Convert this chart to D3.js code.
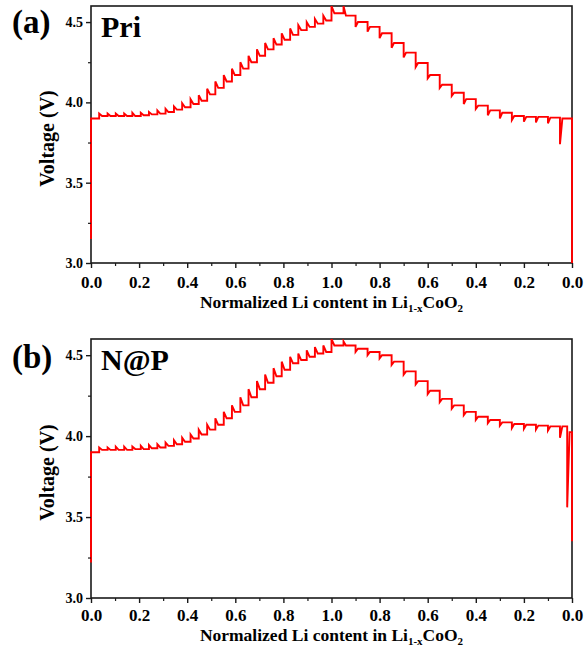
<!DOCTYPE html>
<html>
<head>
<meta charset="utf-8">
<script src="https://cdn.jsdelivr.net/npm/d3@7"></script>
<style>
  html, body { margin: 0; padding: 0; background: #fff; }
  svg { display: block; }
  text { font-family: "Liberation Serif", "Times New Roman", serif; font-weight: bold; fill: #000; }
</style>
</head>
<body>
<svg id="chart" width="586" height="652"></svg>
<script>
// ---------------- DATA ----------------
const xTickValues = [0, 0.2, 0.4, 0.6, 0.8, 1.0, 1.2, 1.4, 1.6, 1.8, 2.0];
const xTickLabels = ["0.0", "0.2", "0.4", "0.6", "0.8", "1.0", "0.8", "0.6", "0.4", "0.2", "0.0"];
const yTickValues = [3.0, 3.5, 4.0, 4.5];
const yTickLabels = ["3.0", "3.5", "4.0", "4.5"];
const panelLetters = ["(a)", "(b)"];
const sampleNames = ["Pri", "N@P"];

// charge (delithiation) pulse positions, x in Li1-xCoO2
const chargeX = [0.034, 0.069, 0.103, 0.138, 0.172, 0.207, 0.241, 0.276, 0.310, 0.345,
                 0.379, 0.414, 0.448, 0.483, 0.517, 0.552, 0.586, 0.621, 0.655, 0.690,
                 0.724, 0.759, 0.793, 0.828, 0.862, 0.897, 0.931, 0.966, 1.000];
// discharge pulse positions, amount of Li re-inserted (axis reads 1.0 -> 0.0)
const dischargeD_a = [0.05, 0.10, 0.15, 0.20, 0.25, 0.30, 0.35, 0.40, 0.45, 0.50,
                      0.55, 0.60, 0.65, 0.70, 0.75, 0.80, 0.85, 0.90, 0.95];
const dischargeD_b = [0.05, 0.10, 0.15, 0.20, 0.25, 0.30, 0.35, 0.40, 0.45, 0.50,
                      0.55, 0.60, 0.65, 0.70, 0.75, 0.80, 0.85, 0.90, 0.95, 0.98];

// Pri (a)
const priStart = [3.15, 3.90];          // initial OCV drop-in, first relaxed level
const priChargeSpike = [3.93, 3.93, 3.93, 3.93, 3.935, 3.935, 3.94, 3.95, 3.96, 3.975,
                        3.995, 4.02, 4.045, 4.085, 4.13, 4.17, 4.21, 4.25, 4.29, 4.33,
                        4.37, 4.40, 4.43, 4.46, 4.48, 4.50, 4.52, 4.54, 4.60];
const priChargeLevel = [3.915, 3.915, 3.915, 3.915, 3.915, 3.92, 3.925, 3.93, 3.94, 3.955,
                        3.97, 3.99, 4.01, 4.05, 4.09, 4.13, 4.17, 4.21, 4.25, 4.29,
                        4.33, 4.36, 4.39, 4.42, 4.45, 4.47, 4.49, 4.51, 4.555];
const priDischargeSpike = [4.60, 4.47, 4.44, 4.40, 4.34, 4.28, 4.22, 4.15, 4.09, 4.04,
                           3.99, 3.96, 3.92, 3.90, 3.89, 3.88, 3.875, 3.87, 3.74];
const priDischargeLevel = [4.54, 4.50, 4.47, 4.43, 4.37, 4.31, 4.245, 4.17, 4.11, 4.06,
                           4.02, 3.98, 3.95, 3.935, 3.915, 3.91, 3.91, 3.905, 3.90];
const priEnd = 3.0;

// N@P (b)
const napStart = [3.22, 3.90];
const napChargeSpike = [3.93, 3.93, 3.935, 3.935, 3.935, 3.94, 3.945, 3.95, 3.96, 3.975,
                        3.99, 4.01, 4.04, 4.07, 4.11, 4.15, 4.19, 4.24, 4.29, 4.34,
                        4.38, 4.42, 4.46, 4.49, 4.51, 4.53, 4.55, 4.56, 4.60];
const napChargeLevel = [3.915, 3.915, 3.915, 3.915, 3.92, 3.92, 3.925, 3.93, 3.94, 3.95,
                        3.965, 3.985, 4.01, 4.04, 4.07, 4.11, 4.15, 4.19, 4.24, 4.29,
                        4.33, 4.37, 4.41, 4.45, 4.47, 4.49, 4.51, 4.52, 4.56];
const napDischargeSpike = [4.585, 4.52, 4.50, 4.48, 4.44, 4.38, 4.32, 4.26, 4.21, 4.17,
                           4.13, 4.10, 4.08, 4.065, 4.05, 4.045, 4.04, 4.035, 3.99, 3.56];
const napDischargeLevel = [4.56, 4.54, 4.52, 4.50, 4.46, 4.40, 4.34, 4.28, 4.23, 4.19,
                           4.15, 4.12, 4.10, 4.085, 4.075, 4.07, 4.065, 4.06, 4.06, 4.025];
const napEnd = 3.35;

// ---------------- DRAW ----------------
const svg = d3.select("#chart");
const panels = [
  { top: 6, bottom: 263, letter: panelLetters[0], name: sampleNames[0],
    start: priStart, cs: priChargeSpike, cl: priChargeLevel,
    dd: dischargeD_a, ds: priDischargeSpike, dl: priDischargeLevel, end: priEnd,
    letterY: 33, nameY: 37, tickY: 288, titleY: 308 },
  { top: 339, bottom: 598, letter: panelLetters[1], name: sampleNames[1],
    start: napStart, cs: napChargeSpike, cl: napChargeLevel,
    dd: dischargeD_b, ds: napDischargeSpike, dl: napDischargeLevel, end: napEnd,
    letterY: 368, nameY: 370, tickY: 621, titleY: 641 }
];
const left = 91, right = 572;

panels.forEach((p, i) => {
  const x = d3.scaleLinear().domain([0, 2]).range([left, right]);
  const y = d3.scaleLinear().domain([3.0, 4.6]).range([p.bottom, p.top]);
  const g = svg.append("g");

  // frame
  g.append("rect")
    .attr("x", left).attr("y", p.top)
    .attr("width", right - left).attr("height", p.bottom - p.top)
    .attr("fill", "none").attr("stroke", "#1a1a1a").attr("stroke-width", 1.6);

  // build GITT trace
  const pts = [];
  pts.push([0, p.start[0]]);
  pts.push([0, p.start[1]]);
  let prev = p.start[1];
  chargeX.forEach((cx, k) => {
    pts.push([cx, prev]);
    pts.push([cx, p.cs[k]]);
    pts.push([Math.min(cx + 0.012, 2), p.cl[k]]);
    prev = p.cl[k];
  });
  p.dd.forEach((d, k) => {
    const u = 1 + d;
    pts.push([u, prev]);
    pts.push([u, p.ds[k]]);
    pts.push([u + 0.01, p.dl[k]]);
    prev = p.dl[k];
  });
  pts.push([2, prev]);
  pts.push([2, p.end]);

  const clipId = "clip" + i;
  svg.append("clipPath").attr("id", clipId)
    .append("rect").attr("x", left - 2).attr("y", p.top)
    .attr("width", right - left + 4).attr("height", p.bottom - p.top + 1);

  g.append("path")
    .datum(pts)
    .attr("clip-path", `url(#${clipId})`)
    .attr("fill", "none")
    .attr("stroke", "#ff0000")
    .attr("stroke-width", 1.9)
    .attr("stroke-linejoin", "miter")
    .attr("d", d3.line().x(d => x(d[0])).y(d => y(d[1])));

  // x axis
  const xAxis = d3.axisBottom(x).tickValues(xTickValues)
    .tickFormat((d, j) => xTickLabels[j]).tickSize(5).tickPadding(6);
  const xa = g.append("g").attr("transform", `translate(0,${p.bottom})`).call(xAxis);
  xa.select(".domain").remove();
  xa.selectAll("line").attr("stroke", "#1a1a1a").attr("stroke-width", 1.4);
  xa.selectAll("text").attr("font-size", 17).attr("font-family", "Liberation Serif")
    .attr("font-weight", "bold").attr("dy", null).attr("y", p.tickY - p.bottom);
  const xMinor = d3.axisBottom(x).tickValues(d3.range(1, 20, 2).map(v => v / 10))
    .tickFormat("").tickSize(3);
  const xm = g.append("g").attr("transform", `translate(0,${p.bottom})`).call(xMinor);
  xm.select(".domain").remove();
  xm.selectAll("line").attr("stroke", "#1a1a1a").attr("stroke-width", 1.2);

  // y axis
  const yAxis = d3.axisLeft(y).tickValues(yTickValues)
    .tickFormat((d, j) => yTickLabels[j]).tickSize(5).tickPadding(3);
  const ya = g.append("g").attr("transform", `translate(${left},0)`).call(yAxis);
  ya.select(".domain").remove();
  ya.selectAll("line").attr("stroke", "#1a1a1a").attr("stroke-width", 1.4);
  ya.selectAll("text").attr("font-size", 14).attr("font-family", "Liberation Serif")
    .attr("font-weight", "bold");
  const yMinor = d3.axisLeft(y).tickValues([3.25, 3.75, 4.25]).tickFormat("").tickSize(3);
  const ym = g.append("g").attr("transform", `translate(${left},0)`).call(yMinor);
  ym.select(".domain").remove();
  ym.selectAll("line").attr("stroke", "#1a1a1a").attr("stroke-width", 1.2);

  // y title
  g.append("text")
    .attr("transform", `translate(54,${(p.top + p.bottom) / 2 + 4}) rotate(-90)`)
    .attr("text-anchor", "middle").attr("font-size", 20)
    .text("Voltage (V)");

  // x title with subscript
  const xt = g.append("text").attr("x", (left + right) / 2).attr("y", p.titleY)
    .attr("text-anchor", "middle").attr("font-size", 17.5);
  xt.append("tspan").text("Normalized Li content in Li");
  xt.append("tspan").attr("font-size", 11).attr("dy", 4).text("1-x");
  xt.append("tspan").attr("dy", -4).text("CoO");
  xt.append("tspan").attr("font-size", 11).attr("dy", 4).text("2");

  // panel letter and sample name
  g.append("text").attr("x", 12).attr("y", p.letterY).attr("font-size", 33).text(p.letter);
  g.append("text").attr("x", 101).attr("y", p.nameY).attr("font-size", 30).text(p.name);
});
</script>
</body>
</html>
